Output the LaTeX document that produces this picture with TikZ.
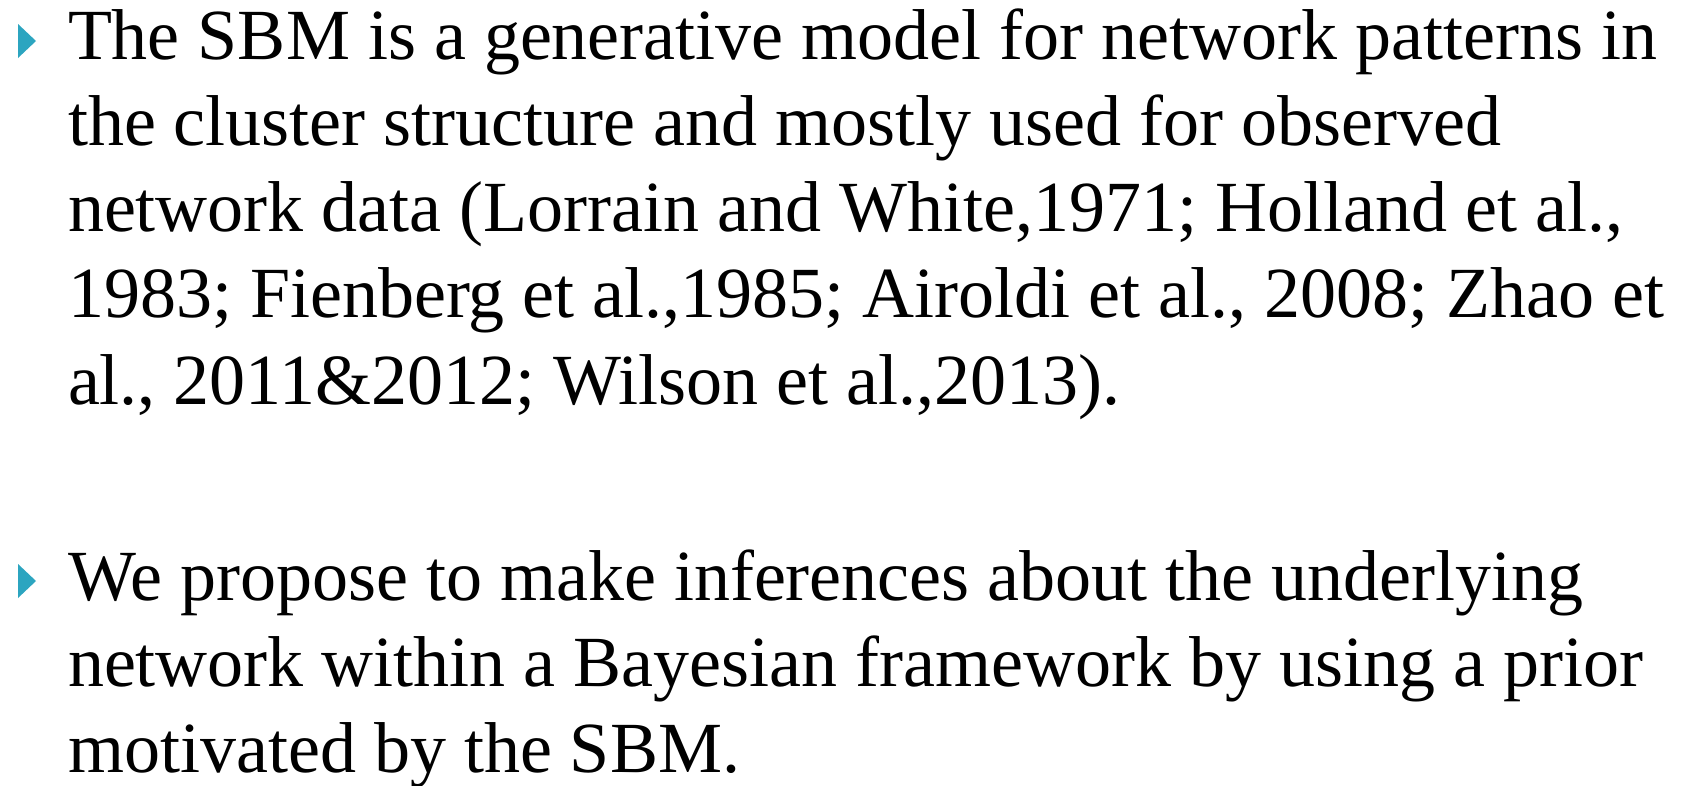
\documentclass[tikz,border=0pt]{standalone}
\usepackage{fontspec}
\setmainfont{Liberation Serif}
\definecolor{bulletc}{RGB}{44,165,192}
\tikzset{
  line/.style={anchor=base west, inner sep=0pt, outer sep=0pt, font=\fontsize{72}{86}\selectfont},
  bulletmark/.style={fill=bulletc, draw=none}
}
\begin{document}
\frenchspacing
\begin{tikzpicture}[x=1pt, y=-1pt]
\useasboundingbox (0,0) rectangle (1681,785);
\fill[white] (0,0) rectangle (1681,785);
% bullets
\fill[bulletmark] (18,24) -- (36,41) -- (18,58) -- cycle;
\fill[bulletmark] (18,564) -- (36,581) -- (18,598) -- cycle;
% first item
\node[line] (l1) at (68,59) {The SBM is a generative model for network patterns in};
\node[line] (l2) at (68,145.3) {the cluster structure and mostly used for observed};
\node[line] (l3) at (68,231.6) {network data (Lorrain and White,1971; Holland et al.,};
\node[line] (l4) at (68,317.9) {1983; Fienberg et al.,1985; Airoldi et al., 2008; Zhao et};
\node[line] (l5) at (68,404.2) {al., 2011\&2012; Wilson et al.,2013).};
% second item
\node[line] (l6) at (68,600) {We propose to make inferences about the underlying};
\node[line] (l7) at (68,686.3) {network within a Bayesian framework by using a prior};
\node[line] (l8) at (68,772.6) {motivated by the SBM.};
\end{tikzpicture}
\end{document}
